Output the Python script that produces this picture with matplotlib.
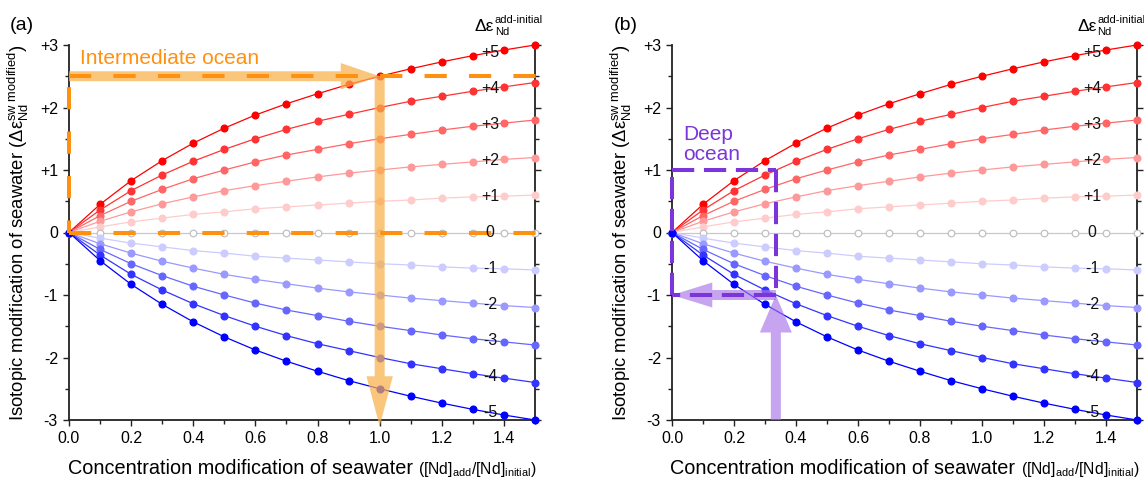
import matplotlib
matplotlib.use('Agg')
import matplotlib.pyplot as plt
import numpy as np
from matplotlib.patches import FancyArrowPatch
from matplotlib.offsetbox import TextArea, HPacker, VPacker, AnchoredOffsetbox
from matplotlib.ticker import MultipleLocator, FixedLocator, FormatStrFormatter

plt.rcParams['font.family'] = ['Liberation Sans', 'DejaVu Sans']
plt.rcParams['mathtext.fontset'] = 'custom'
plt.rcParams['mathtext.rm'] = 'Liberation Sans'
plt.rcParams['mathtext.it'] = 'Liberation Sans:italic'
plt.rcParams['mathtext.bf'] = 'Liberation Sans:bold'
plt.rcParams['lines.scale_dashes'] = False

# ---------------- data ----------------
x_conc = [0.0, 0.1, 0.2, 0.3, 0.4, 0.5, 0.6, 0.7, 0.8, 0.9, 1.0, 1.1, 1.2, 1.3, 1.4, 1.5]
d_p5 = [0, 0.45, 0.83, 1.15, 1.43, 1.67, 1.88, 2.06, 2.22, 2.37, 2.50, 2.62, 2.73, 2.83, 2.92, 3.00]
d_p4 = [0, 0.36, 0.67, 0.92, 1.14, 1.33, 1.50, 1.65, 1.78, 1.89, 2.00, 2.10, 2.18, 2.26, 2.33, 2.40]
d_p3 = [0, 0.27, 0.50, 0.69, 0.86, 1.00, 1.13, 1.24, 1.33, 1.42, 1.50, 1.57, 1.64, 1.70, 1.75, 1.80]
d_p2 = [0, 0.18, 0.33, 0.46, 0.57, 0.67, 0.75, 0.82, 0.89, 0.95, 1.00, 1.05, 1.09, 1.13, 1.17, 1.20]
d_p1 = [0, 0.09, 0.17, 0.23, 0.29, 0.33, 0.38, 0.41, 0.44, 0.47, 0.50, 0.52, 0.55, 0.57, 0.58, 0.60]
d_0 = [0, 0, 0, 0, 0, 0, 0, 0, 0, 0, 0, 0, 0, 0, 0, 0]
d_m1 = [0, -0.09, -0.17, -0.23, -0.29, -0.33, -0.38, -0.41, -0.44, -0.47, -0.50, -0.52, -0.55, -0.57, -0.58, -0.60]
d_m2 = [0, -0.18, -0.33, -0.46, -0.57, -0.67, -0.75, -0.82, -0.89, -0.95, -1.00, -1.05, -1.09, -1.13, -1.17, -1.20]
d_m3 = [0, -0.27, -0.50, -0.69, -0.86, -1.00, -1.13, -1.24, -1.33, -1.42, -1.50, -1.57, -1.64, -1.70, -1.75, -1.80]
d_m4 = [0, -0.36, -0.67, -0.92, -1.14, -1.33, -1.50, -1.65, -1.78, -1.89, -2.00, -2.10, -2.18, -2.26, -2.33, -2.40]
d_m5 = [0, -0.45, -0.83, -1.15, -1.43, -1.67, -1.88, -2.06, -2.22, -2.37, -2.50, -2.62, -2.73, -2.83, -2.92, -3.00]

series = [d_p5, d_p4, d_p3, d_p2, d_p1, d_0, d_m1, d_m2, d_m3, d_m4, d_m5]
series_labels = ['+5', '+4', '+3', '+2', '+1', '0', '-1', '-2', '-3', '-4', '-5']
y_ticks = [-3, -2, -1, 0, 1, 2, 3]
y_ticklabels = ['-3', '-2', '-1', '0', '+1', '+2', '+3']

# intermediate ocean scenario (a) and deep ocean scenario (b)
inter_conc, inter_shift = 1.0, 2.5
deep_conc, deep_shift = 0.335, 1.0

# ---------------- styles ----------------
colors = ['#FF0000', '#FF3333', '#FF6666', '#FF9999', '#FFCCCC', '#C8C8C8',
          '#CCCCFF', '#9999FF', '#6666FF', '#3333FF', '#0000FF']
label_x = 1.355
FS_TICK = 11.5
FS_LAB = 14.3
FS_YLAB = 13.3

fig = plt.figure(figsize=(11.44, 4.79), dpi=100)
W, H = 1144, 479
ax_a = fig.add_axes([69 / W, 1 - 420 / H, 466 / W, 375 / H])
ax_b = fig.add_axes([672 / W, 1 - 420 / H, 465 / W, 375 / H])


def base_panel(ax):
    for ys, c, lab in zip(series, colors, series_labels):
        ax.plot(x_conc, ys, '-', color=c, lw=0.9, zorder=2, clip_on=False)
        if lab == '0':
            ax.plot(x_conc, ys, 'o', ms=4.8, mfc='white', mec='#BBBBBB', mew=0.8,
                    zorder=3, clip_on=False)
        else:
            ax.plot(x_conc, ys, 'o', ms=4.8, color=c, mec=c, zorder=3, clip_on=False)
        ly = np.interp(label_x, x_conc, ys)
        ax.text(label_x, ly, lab, ha='center', va='center', fontsize=FS_TICK,
                color='#111111', zorder=7)
    ax.set_xlim(0, 1.5)
    ax.set_ylim(-3, 3)
    ax.xaxis.set_major_locator(MultipleLocator(0.2))
    ax.xaxis.set_minor_locator(MultipleLocator(0.1))
    ax.xaxis.set_major_formatter(FormatStrFormatter('%.1f'))
    ax.yaxis.set_major_locator(FixedLocator(y_ticks))
    ax.set_yticklabels(y_ticklabels)
    ax.yaxis.set_minor_locator(MultipleLocator(0.5))
    ax.tick_params(which='both', direction='out', right=True, top=False,
                   labelright=False, width=1.0, labelsize=FS_TICK, color='#222222')
    ax.tick_params(which='major', length=4.5)
    ax.tick_params(which='minor', length=3)
    ax.spines['top'].set_visible(False)
    for s in ['left', 'right', 'bottom']:
        ax.spines[s].set_linewidth(1.3)
        ax.spines[s].set_color('#222222')
    ax.set_ylabel('Isotopic modification of seawater '
                  r'($\mathregular{Δε}^{\mathregular{sw\ modified}}_{\mathregular{Nd}}$)',
                  fontsize=FS_YLAB, labelpad=6)
    t1 = TextArea('Concentration modification of seawater ',
                  textprops=dict(fontsize=FS_LAB))
    t2 = TextArea(r'($\mathregular{[Nd]_{add}/[Nd]_{initial}}$)',
                  textprops=dict(fontsize=11.3))
    box = HPacker(children=[t1, t2], align='baseline', pad=0, sep=0)
    anch = AnchoredOffsetbox(loc='upper center', child=box, pad=0, frameon=False,
                             bbox_to_anchor=(0.5, -0.105), bbox_transform=ax.transAxes,
                             borderpad=0)
    ax.add_artist(anch)
    # title-like symbol: Δε with stacked super/subscript
    main = TextArea('Δε', textprops=dict(fontsize=12.5))
    sup = TextArea('add-initial', textprops=dict(fontsize=8))
    sub = TextArea('Nd', textprops=dict(fontsize=8))
    scripts = VPacker(children=[sup, sub], align='left', pad=0, sep=1)
    tbox = HPacker(children=[main, scripts], align='center', pad=0, sep=0.5)
    tanch = AnchoredOffsetbox(loc='lower left', child=tbox, pad=0, frameon=False,
                              bbox_to_anchor=(0.871, 1.022), bbox_transform=ax.transAxes,
                              borderpad=0)
    ax.add_artist(tanch)


def arrow(ax, p0, p1, color, alpha, tail_w, head_w, head_l):
    style = f'simple,head_length={head_l},head_width={head_w},tail_width={tail_w}'
    a = FancyArrowPatch(p0, p1, arrowstyle=style, mutation_scale=1, color=color,
                        alpha=alpha, lw=0, shrinkA=0, shrinkB=0, zorder=4, clip_on=False)
    ax.add_patch(a)


base_panel(ax_a)
base_panel(ax_b)

# ---- panel (a) annotations ----
orange_light = '#F7B04A'
orange = '#FF9010'
arrow(ax_a, (0, inter_shift), (inter_conc, inter_shift), orange_light, 0.72, 7.2, 19, 28)
arrow(ax_a, (inter_conc, inter_shift), (inter_conc, -3.1), orange_light, 0.72, 7.2, 19, 36)
ax_a.plot([0, 1.52], [inter_shift, inter_shift], color=orange, lw=2.9,
          linestyle=(0, (16, 16)), zorder=5, clip_on=False)
ax_a.plot([0, 1.52], [0, 0], color=orange, lw=2.9, linestyle=(0, (16, 16)),
          zorder=5, clip_on=False)
ax_a.plot([0, 0], [inter_shift, 0], color=orange, lw=2.9, linestyle=(24, (16, 16)),
          zorder=5, clip_on=False)
ax_a.text(0.035, 2.7, 'Intermediate ocean', color=orange, fontsize=15, ha='left',
          va='baseline', zorder=6)

# ---- panel (b) annotations ----
purple_light = '#A873E8'
purple = '#7B35D8'
arrow(ax_b, (deep_conc, -3.0), (deep_conc, -deep_shift), purple_light, 0.65, 7.2, 23, 27)
arrow(ax_b, (deep_conc, -deep_shift), (0, -deep_shift), purple_light, 0.65, 7.2, 18, 29)
for xs, ys in [([0, deep_conc], [deep_shift, deep_shift]),
               ([deep_conc, deep_conc], [deep_shift, -deep_shift]),
               ([deep_conc, 0], [-deep_shift, -deep_shift]),
               ([0, 0], [-deep_shift, deep_shift])]:
    ax_b.plot(xs, ys, color=purple, lw=2.9, linestyle=(0, (16, 7)), zorder=5,
              clip_on=False)
ax_b.text(0.035, 1.16, 'Deep\nocean', color=purple, fontsize=15, ha='left',
          va='baseline', linespacing=1.05, zorder=6)

fig.text(10 / W, 1 - 17 / H, '(a)', fontsize=14, va='top', ha='left')
fig.text(614 / W, 1 - 17 / H, '(b)', fontsize=14, va='top', ha='left')

fig.savefig('out.png', dpi=100)
